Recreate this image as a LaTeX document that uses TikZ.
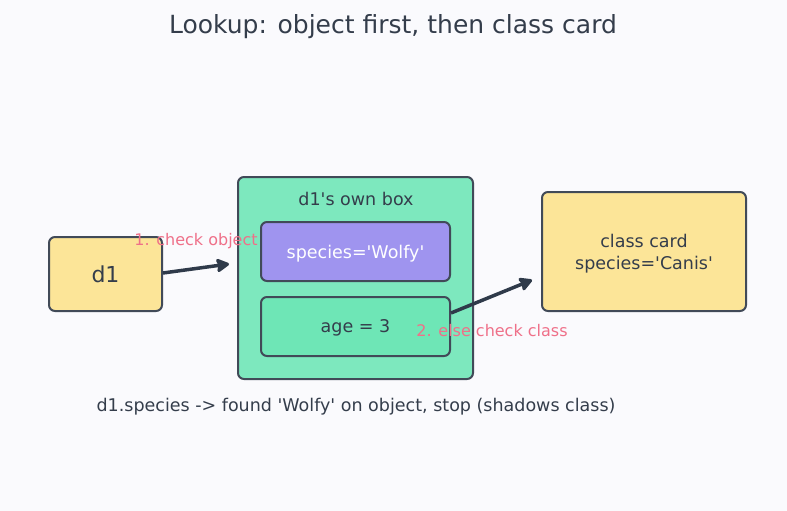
\documentclass[tikz,border=0pt]{standalone}
\usepackage{fontspec}
\setmainfont{DejaVu Sans}
\usetikzlibrary{arrows.meta}
\definecolor{bg}{HTML}{FAFAFD}
\definecolor{ink}{HTML}{343D4B}
\definecolor{edge}{HTML}{414A58}
\definecolor{yel}{HTML}{FCE598}
\definecolor{grn}{HTML}{7DE8BE}
\definecolor{grn2}{HTML}{6EE6B6}
\definecolor{pur}{HTML}{9F94EF}
\definecolor{pink}{HTML}{EF7089}
\definecolor{arr}{HTML}{2F3A4A}
\newcommand\sq{\textquotesingle}
\tikzset{
  box/.style={draw=edge, line width=2pt, rounded corners=6pt, inner sep=0pt, text=ink, align=center, text depth=0pt, font=\fontsize{17.5}{22}\selectfont},
  txt/.style={text=ink, font=\fontsize{17.5}{21}\selectfont, yshift=-2pt},
  lbl/.style={text=pink, font=\fontsize{16}{19}\selectfont, inner sep=0pt, yshift=-2pt},
  conn/.style={draw=arr, line width=3.5pt, -{Stealth[length=15pt,width=16pt,inset=2.5pt,round]}}
}
\begin{document}
\begin{tikzpicture}[x=1pt,y=-1pt]
\fill[bg] (0,0) rectangle (787,511);
\useasboundingbox (0,0) rectangle (787,511);
\node[txt, font=\fontsize{25}{30}\selectfont] (title) at (393,25) {Lookup: object first, then class card};
\node[box, fill=yel, minimum width=113pt, minimum height=74pt, font=\fontsize{22}{26}\selectfont] (d1) at (105.5,274) {d1};
\node[box, fill=grn, minimum width=235pt, minimum height=202pt] (own) at (355.5,278) {};
\node[txt] (ownlbl) at (356,197) {d1\sq s own box};
\node[box, fill=pur, text=white, minimum width=189pt, minimum height=59pt] (sp) at (355.5,251.5) {species=\sq Wolfy\sq};
\node[box, fill=grn2, minimum width=189pt, minimum height=59pt] (age) at (355.5,326.5) {age = 3};
\node[box, fill=yel, minimum width=204pt, minimum height=119pt] (cls) at (644,251.5) {class card\\species=\sq Canis\sq};
\coordinate (a1s) at (162,273);
\coordinate (a1e) at (229,264);
\draw[conn] (d1.east |- a1s) -- (a1e);
\coordinate (a2e) at (532,280);
\draw[conn] (age.east |- 0,313) -- (a2e);
\node[lbl] (l1) at (196,239) {1. check object};
\node[lbl] (l2) at (492,329) {2. else check class};
\node[txt] (note) at (356,405) {d1.species -> found \sq Wolfy\sq\ on object, stop (shadows class)};
\end{tikzpicture}
\end{document}
